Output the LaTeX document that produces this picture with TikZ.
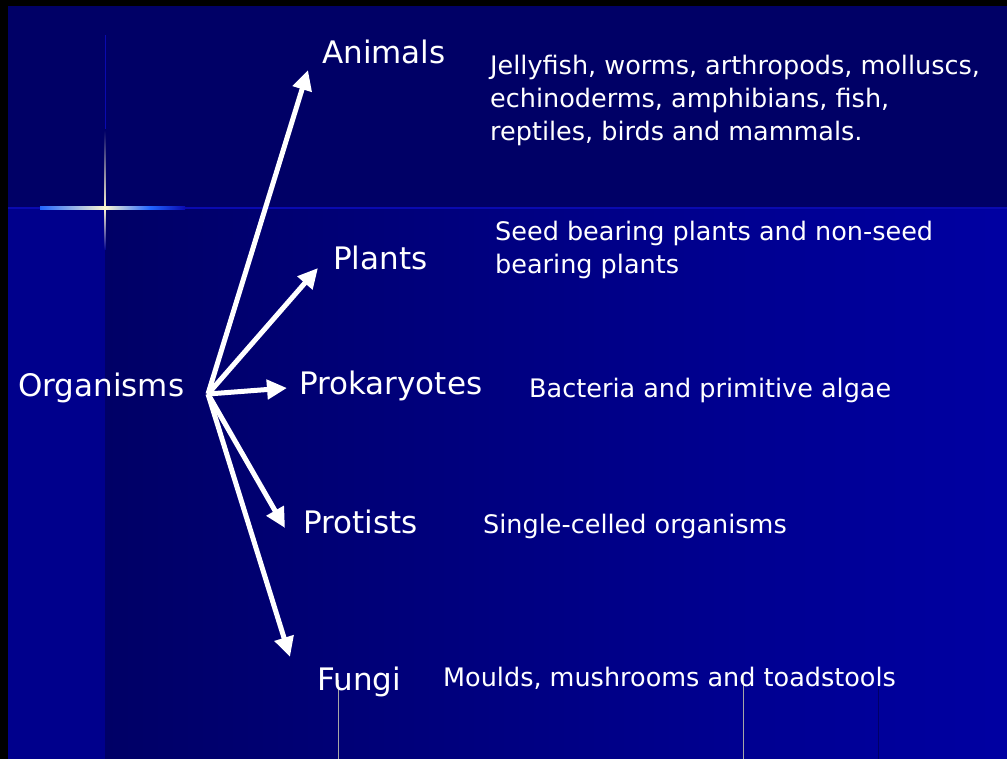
\documentclass[tikz,border=0pt]{standalone}
\usepackage{fontspec}
\setmainfont{DejaVu Sans}
\usetikzlibrary{arrows.meta}
\definecolor{slidenavy}{HTML}{000066}
\definecolor{slidedeep}{HTML}{00008C}
\definecolor{slidebright}{HTML}{0000A2}
\definecolor{slideline}{HTML}{0A0AB0}
\definecolor{glowblue}{HTML}{2266FF}
\definecolor{starcore}{HTML}{FFF8D0}

\begin{document}
\begin{tikzpicture}[
  x=1pt, y=-1pt,
  kingdom/.style={text=white, anchor=base west, inner sep=0pt, font=\fontsize{31}{36}\selectfont},
  descr/.style={text=white, anchor=base west, align=left, inner sep=0pt, font=\fontsize{25.5}{33}\selectfont},
  arr/.style={draw=white, line width=5pt, -{Triangle[length=20pt, width=19pt]}}
]

% Slide background
\useasboundingbox (0,0) rectangle (1007,759);
\fill[black] (0,0) rectangle (1007,759);
\fill[slidenavy] (8,6) rectangle (1007,208);
\fill[slidedeep] (8,208) rectangle (105,759);
\shade[left color=slidenavy, right color=slidebright] (105,208) rectangle (1007,759);

% Star flare on the band edge
\draw[slideline, line width=1.5pt] (8,208) -- (1007,208);
\shade[left color=glowblue, right color=starcore] (40,206.8) rectangle (105,209.2);
\shade[left color=starcore, right color=glowblue] (105,206.8) rectangle (150,209.2);
\shade[left color=glowblue, right color=slideline] (150,206.8) rectangle (185,209.2);
\draw[slideline, line width=0.8pt] (105,35) -- (105,130);
\shade[top color=slidenavy, bottom color=starcore] (104.2,130) rectangle (105.8,208);
\shade[top color=starcore, bottom color=slidedeep] (104.2,208) rectangle (105.8,250);

% Faint rules at the bottom
\draw[gray!70, line width=0.6pt] (338,680) -- (338,759);
\draw[gray!70, line width=0.6pt] (743,676) -- (743,759);
\draw[slidenavy, line width=0.6pt] (878,685) -- (878,759);

% Root and kingdoms
\node[kingdom] (organisms) at (18,396) {Organisms};
\node[kingdom] (animals) at (322,64) {Animals};
\node[kingdom] (plants) at (333,270) {Plants};
\node[kingdom] (prokaryotes) at (299,394) {Prokaryotes};
\node[kingdom] (protists) at (303,533) {Protists};
\node[kingdom] (fungi) at (317,690) {Fungi};

% Descriptions (base = last line)
\node[descr] (animals-d) at (490,141) {Jellyfish, worms, arthropods, molluscs,\\echinoderms, amphibians, fish,\\reptiles, birds and mammals.};
\node[descr] (plants-d) at (495,274) {Seed bearing plants and non-seed\\bearing plants};
\node[descr] (prokaryotes-d) at (529,397) {Bacteria and primitive algae};
\node[descr] (protists-d) at (483,533) {Single-celled organisms};
\node[descr] (fungi-d) at (443,686) {Moulds, mushrooms and toadstools};

% Arrows out of the hub
\coordinate (hub) at (208,394);
\coordinate (animals-tip) at (308,70);
\coordinate (plants-tip) at (318,268);
\coordinate (prokaryotes-tip) at (287,388);
\coordinate (protists-tip) at (285,528);
\coordinate (fungi-tip) at (290,657);
\foreach \k in {animals, plants, prokaryotes, protists, fungi} {
  \draw[arr] (hub) -- (\k-tip);
}

\end{tikzpicture}
\end{document}
